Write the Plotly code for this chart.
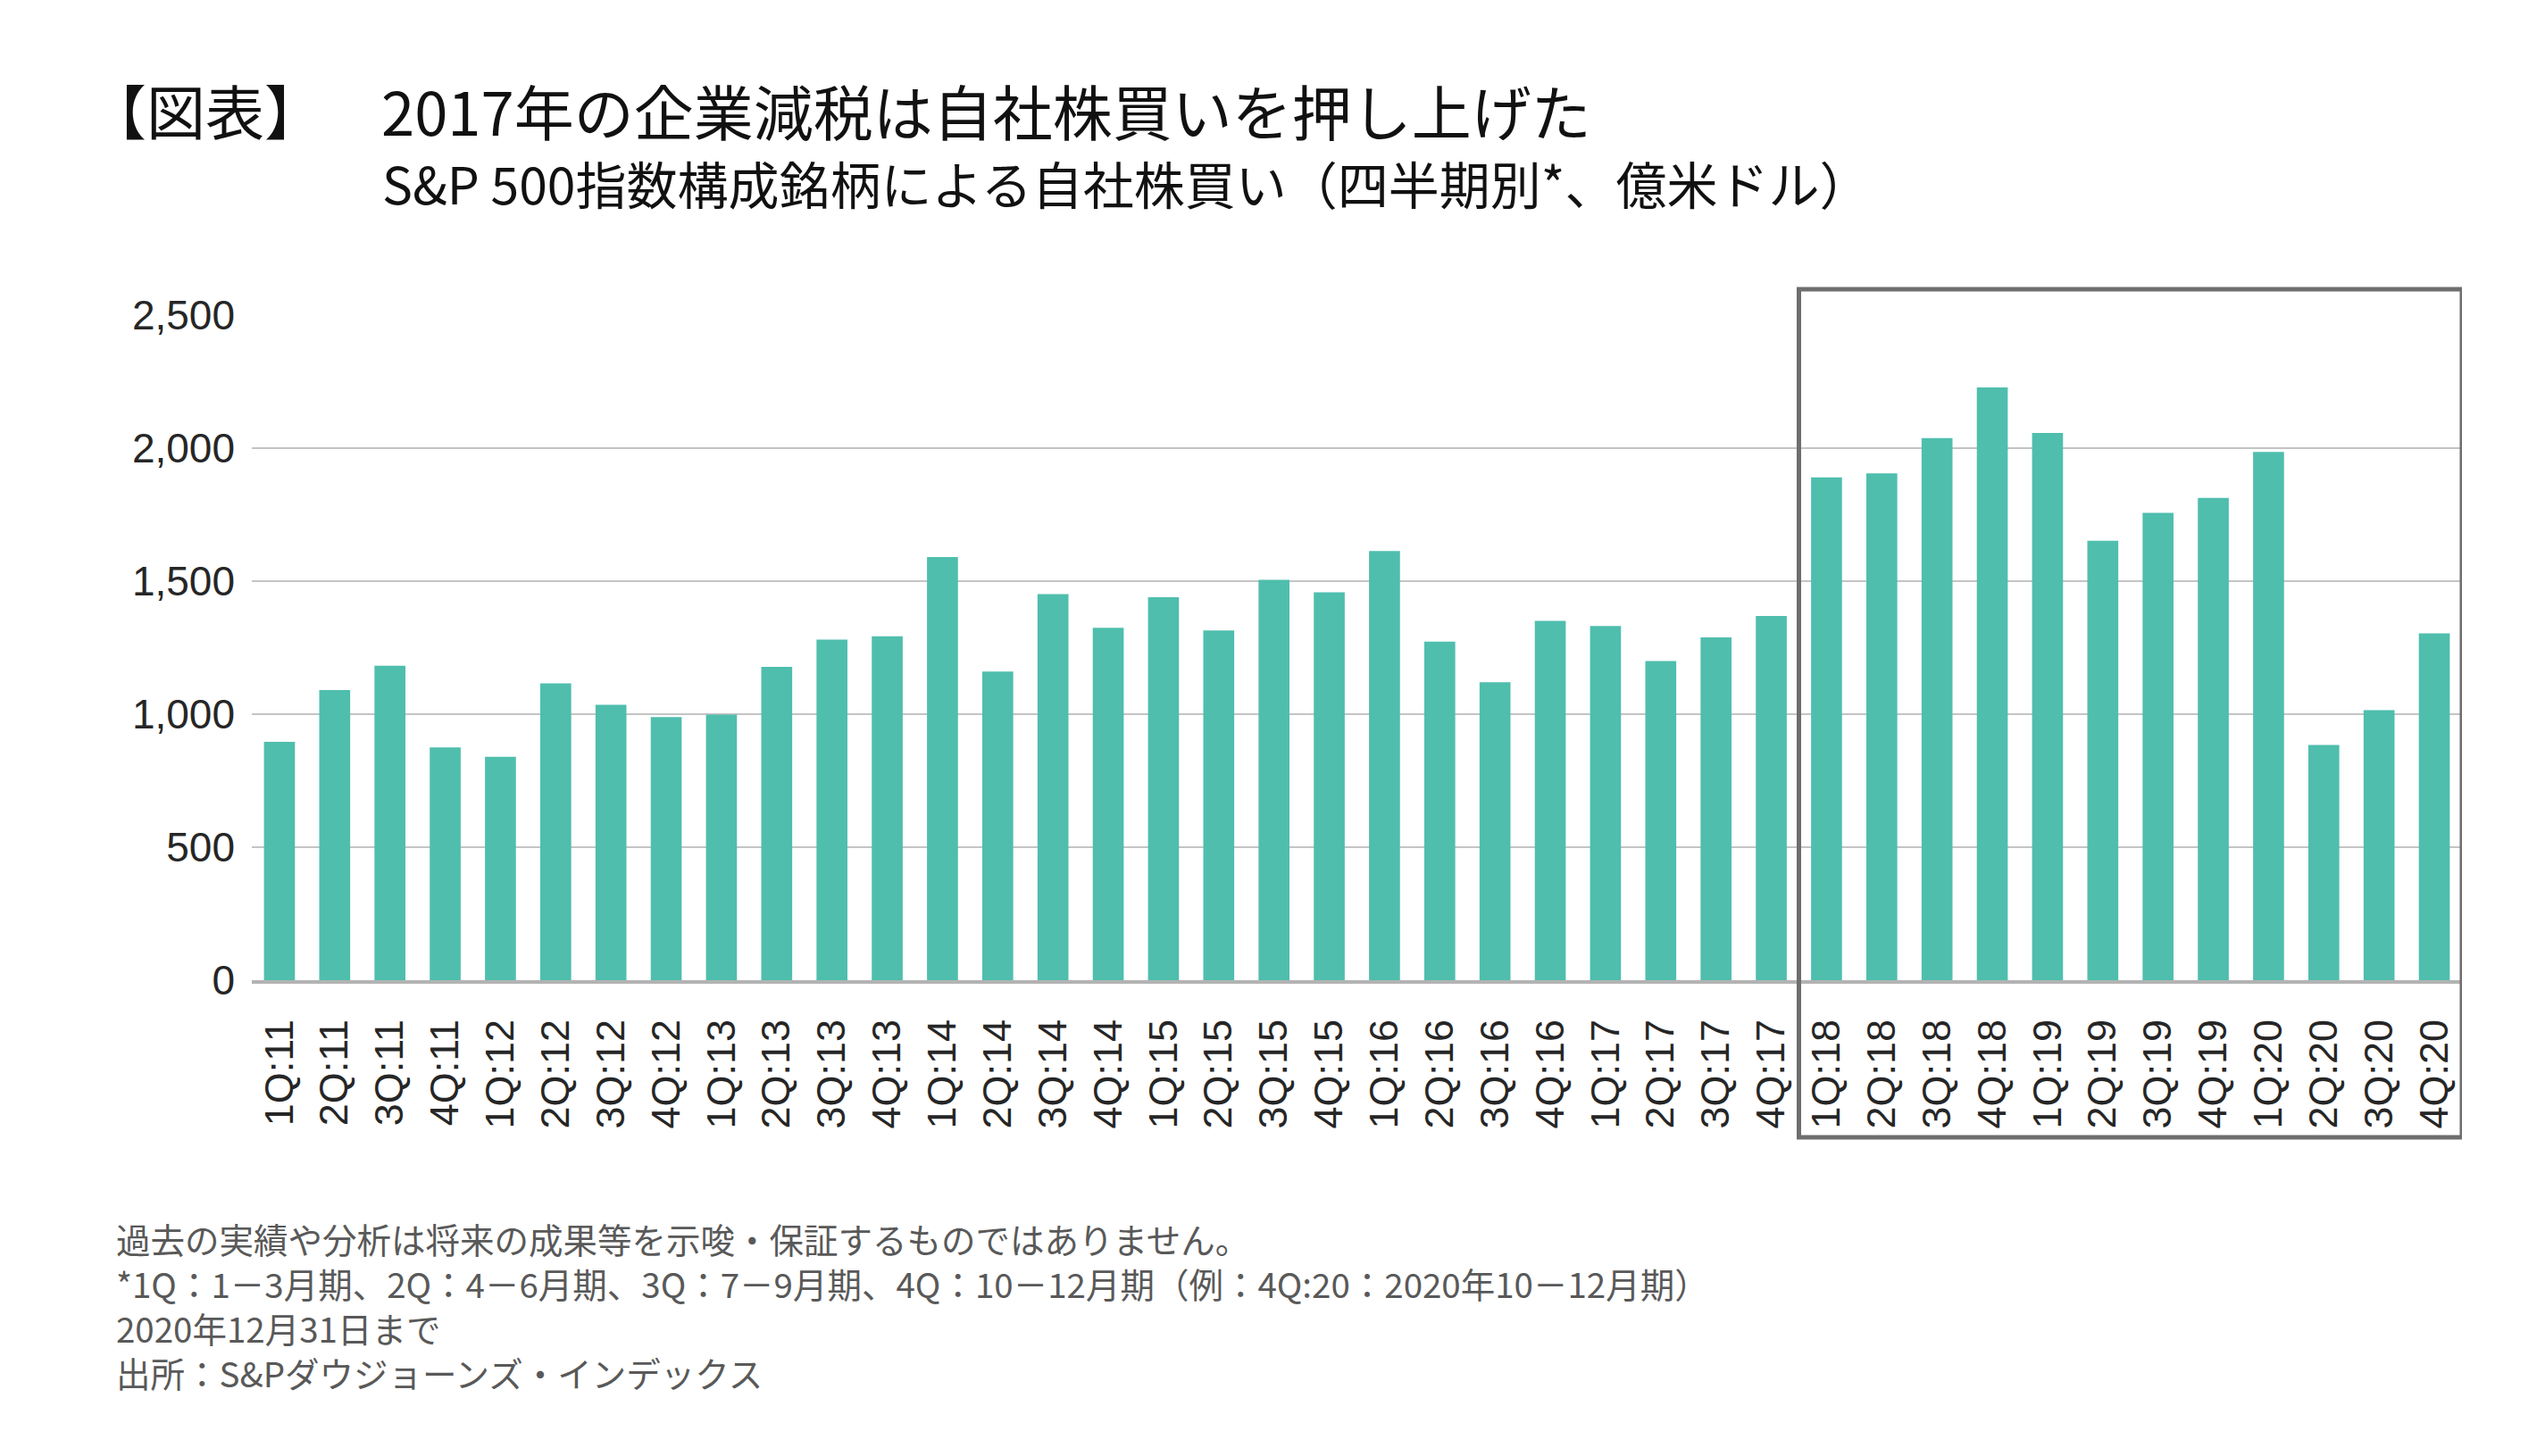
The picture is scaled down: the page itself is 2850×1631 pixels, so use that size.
import plotly.graph_objects as go

# ---- data ----
categories = [
    "1Q:11", "2Q:11", "3Q:11", "4Q:11",
    "1Q:12", "2Q:12", "3Q:12", "4Q:12",
    "1Q:13", "2Q:13", "3Q:13", "4Q:13",
    "1Q:14", "2Q:14", "3Q:14", "4Q:14",
    "1Q:15", "2Q:15", "3Q:15", "4Q:15",
    "1Q:16", "2Q:16", "3Q:16", "4Q:16",
    "1Q:17", "2Q:17", "3Q:17", "4Q:17",
    "1Q:18", "2Q:18", "3Q:18", "4Q:18",
    "1Q:19", "2Q:19", "3Q:19", "4Q:19",
    "1Q:20", "2Q:20", "3Q:20", "4Q:20",
]
buybacks = [
    896, 1091, 1182, 875,
    840, 1116, 1035, 989,
    998, 1178, 1280, 1293,
    1591, 1160, 1451, 1325,
    1440, 1315, 1505, 1458,
    1613, 1273, 1120, 1351,
    1331, 1200, 1289, 1369,
    1890, 1905, 2038, 2228,
    2057, 1652, 1757, 1813,
    1986, 884, 1015, 1304,
]
y_ticks = [0, 500, 1000, 1500, 2000, 2500]
y_tick_labels = ["0", "500", "1,000", "1,500", "2,000", "2,500"]

title_tag = "【図表】"
title_main = "2017年の企業減税は自社株買いを押し上げた"
subtitle = "S&P 500指数構成銘柄による自社株買い（四半期別*、億米ドル）"
footnotes = [
    "過去の実績や分析は将来の成果等を示唆・保証するものではありません。",
    "*1Q：1－3月期、2Q：4－6月期、3Q：7－9月期、4Q：10－12月期（例：4Q:20：2020年10－12月期）",
    "2020年12月31日まで",
    "出所：S&Pダウジョーンズ・インデックス",
]
highlight_start = "1Q:18"

# ---- layout geometry (pixels) ----
W, H = 2850, 1631
PL, PR, PT, PB = 282, 2757, 353, 1098


def px_x(px):
    return (px - PL) / (PR - PL)


def px_y(py):
    return (PB - py) / (PB - PT)


CJK = "Noto Sans CJK JP"
LAT = "Liberation Sans, Arial, " + CJK

fig = go.Figure()
fig.add_trace(go.Bar(
    x=categories, y=buybacks,
    marker=dict(color="#4FBEAD", line=dict(width=0)),
    hoverinfo="x+y",
))

annotations = [
    dict(text=title_tag, x=px_x(96), y=px_y(122), xanchor="left", yanchor="middle",
         font=dict(family=CJK, size=66, color="#111111")),
    dict(text=title_main, x=px_x(425), y=px_y(122), xanchor="left", yanchor="middle",
         font=dict(family=CJK, size=67, color="#111111")),
    dict(text=subtitle, x=px_x(426), y=px_y(204), xanchor="left", yanchor="middle",
         font=dict(family=CJK, size=57, color="#111111")),
    dict(text="<br>".join(footnotes), x=px_x(128), y=px_y(1462), xanchor="left",
         yanchor="middle", align="left",
         font=dict(family=CJK, size=38.5, color="#595959")),
]
for a in annotations:
    a.update(xref="paper", yref="paper", showarrow=False)

hi = categories.index(highlight_start)
shapes = [dict(
    type="rect", xref="x", yref="paper",
    x0=hi - 0.5, x1=len(categories) - 0.5,
    y0=px_y(1274), y1=px_y(324),
    line=dict(color="#6E6E6E", width=5), fillcolor="rgba(0,0,0,0)", layer="above",
)]

fig.update_layout(
    width=W, height=H,
    margin=dict(l=PL, r=W - PR, t=PT, b=H - PB, pad=0),
    paper_bgcolor="white", plot_bgcolor="white",
    bargap=0.44, showlegend=False,
    annotations=annotations, shapes=shapes,
    font=dict(family=LAT, color="#262626"),
)
fig.update_xaxes(
    type="category", tickangle=-90,
    tickfont=dict(family=LAT, size=45, color="#262626"),
    showline=True, linecolor="#B3B3B3", linewidth=4,
    showgrid=False, ticks="", ticklabelstandoff=22,
    range=[-0.5, len(categories) - 0.5],
)
fig.update_yaxes(
    range=[0, 2500], tickvals=y_ticks, ticktext=y_tick_labels,
    tickfont=dict(family=LAT, size=46, color="#262626"),
    showgrid=True, gridcolor="#C4C4C4", gridwidth=2,
    zeroline=False, showline=False, ticks="", ticklabelstandoff=18,
)

fig.write_html("out.html")
